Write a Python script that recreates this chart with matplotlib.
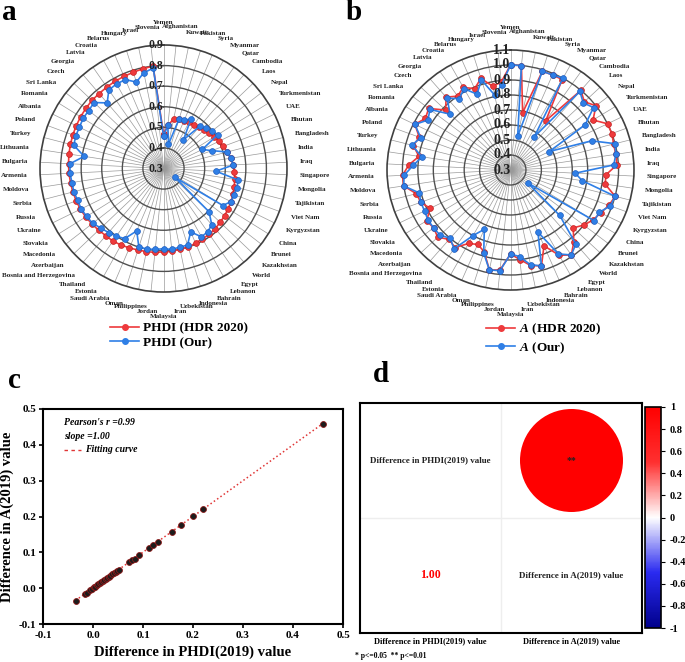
import numpy as np
import matplotlib
matplotlib.use("Agg")
import matplotlib.pyplot as plt
from matplotlib.colors import LinearSegmentedColormap, Normalize
from matplotlib.cm import ScalarMappable
from matplotlib.lines import Line2D

plt.rcParams['font.family'] = ['Liberation Serif', 'DejaVu Serif']
plt.rcParams['font.weight'] = 'bold'
plt.rcParams['axes.unicode_minus'] = False
plt.rcParams['mathtext.fontset'] = 'custom'
plt.rcParams['mathtext.rm'] = 'Liberation Serif:bold'
plt.rcParams['mathtext.it'] = 'Liberation Serif:italic:bold'
plt.rcParams['mathtext.bf'] = 'Liberation Serif:bold'

# ---------------- data ----------------
countries = ["Yemen", "Afghanistan", "Kuwait", "Pakistan", "Syria", "Myanmar", "Qatar",
             "Cambodia", "Laos", "Nepal", "Turkmenistan", "UAE", "Bhutan", "Bangladesh",
             "India", "Iraq", "Singapore", "Mongolia", "Tajikistan", "Viet Nam",
             "Kyrgyzstan", "China", "Brunei", "Kazakhstan", "World", "Egypt", "Lebanon",
             "Bahrain", "Indonesia", "Uzbekistan", "Iran", "Malaysia", "Jordan",
             "Philippines", "Oman", "Saudi Arabia", "Estonia", "Thailand",
             "Bosnia and Herzegovina", "Azerbaijan", "Macedonia", "Slovakia", "Ukraine",
             "Russia", "Serbia", "Moldova", "Armenia", "Bulgaria", "Lithuania", "Turkey",
             "Poland", "Albania", "Romania", "Sri Lanka", "Czech", "Georgia", "Latvia",
             "Croatia", "Belarus", "Hungary", "Israel", "Slovenia"]

phdi_hdr = [0.47, 0.51, 0.546, 0.55, 0.552, 0.556, 0.56, 0.565, 0.57, 0.58,
            0.59, 0.60, 0.61, 0.62, 0.63, 0.64, 0.645, 0.65, 0.655, 0.66,
            0.665, 0.67, 0.675, 0.68, 0.685, 0.69, 0.69, 0.695, 0.70, 0.70,
            0.705, 0.705, 0.71, 0.712, 0.715, 0.72, 0.725, 0.73, 0.73, 0.735,
            0.74, 0.745, 0.75, 0.752, 0.755, 0.757, 0.76, 0.762, 0.765, 0.767,
            0.77, 0.772, 0.775, 0.777, 0.78, 0.78, 0.782, 0.785, 0.787, 0.79,
            0.795, 0.80]
phdi_our = [0.46, 0.51, 0.42, 0.55, 0.555, 0.575, 0.47, 0.57, 0.585, 0.60,
            0.61, 0.51, 0.55, 0.62, 0.63, 0.64, 0.555, 0.665, 0.67, 0.665,
            0.665, 0.64, 0.37, 0.605, 0.66, 0.675, 0.68, 0.635, 0.69, 0.69,
            0.695, 0.69, 0.695, 0.70, 0.70, 0.63, 0.69, 0.70, 0.71, 0.72,
            0.735, 0.74, 0.745, 0.745, 0.75, 0.75, 0.755, 0.755, 0.69, 0.75,
            0.755, 0.755, 0.76, 0.76, 0.765, 0.72, 0.765, 0.77, 0.77, 0.74,
            0.775, 0.79]

a_hdr = [1.00, 1.00, 0.69, 0.99, 0.99, 0.99, 0.70, 1.00, 0.96, 1.00,
         0.93, 1.00, 1.00, 0.99, 0.99, 0.99, 0.92, 0.92, 1.00, 0.98,
         0.95, 0.93, 0.90, 0.86, 0.93, 0.99, 0.95, 0.85, 0.97, 0.95,
         0.90, 0.86, 0.97, 0.98, 0.87, 0.84, 0.86, 0.93, 0.91, 0.95,
         0.93, 0.94, 0.88, 0.92, 0.93, 1.00, 1.00, 0.96, 0.90, 0.95,
         0.93, 0.99, 0.95, 0.97, 0.88, 0.94, 0.90, 0.93, 0.89, 0.94,
         0.87, 0.89]
a_our = [1.00, 1.00, 0.53, 0.99, 0.99, 1.00, 0.57, 0.99, 0.95, 0.98,
         0.87, 0.58, 0.86, 1.00, 0.99, 0.97, 0.72, 0.77, 1.00, 0.99,
         0.94, 0.94, 0.44, 0.74, 0.95, 0.99, 0.94, 0.75, 0.97, 0.945,
         0.88, 0.86, 0.975, 0.98, 0.88, 0.73, 0.80, 0.94, 0.90, 0.93,
         0.93, 0.93, 0.92, 0.92, 0.91, 1.00, 0.99, 0.93, 0.88, 0.96,
         0.92, 0.99, 0.93, 0.96, 0.84, 0.93, 0.88, 0.92, 0.85, 0.93,
         0.81, 0.87]

diff_phdi = [-0.035, -0.016, -0.012, -0.006, -0.002, 0.001, 0.004, 0.007, 0.010, 0.013,
             0.016, 0.019, 0.022, 0.025, 0.028, 0.031, 0.034, 0.038, 0.042, 0.045,
             0.048, 0.052, 0.072, 0.078, 0.083, 0.092, 0.111, 0.120, 0.129, 0.158,
             0.176, 0.200, 0.220, 0.460]
diff_a = [-0.035, -0.017, -0.013, -0.006, -0.001, 0.002, 0.004, 0.008, 0.011, 0.014,
          0.017, 0.019, 0.023, 0.026, 0.029, 0.032, 0.035, 0.039, 0.043, 0.046,
          0.049, 0.052, 0.073, 0.079, 0.082, 0.092, 0.111, 0.120, 0.129, 0.158,
          0.176, 0.201, 0.221, 0.459]

corr_labels = ["Difference in PHDI(2019) value", "Difference in A(2019) value"]
corr_value = 1.00
cbar_ticks = [1, 0.8, 0.6, 0.4, 0.2, 0, -0.2, -0.4, -0.6, -0.8, -1]

RED = '#EE3A3C'
BLUE = '#2F7FE6'
W, H = 685, 662

# small vertical label shifts (px, up positive) to stagger crowded labels
label_shift = {"Yemen": 5, "Afghanistan": 2, "Kuwait": -2, "Slovenia": 1,
               "Uzbekistan": 0, "Iran": -3, "Malaysia": -7, "Jordan": -3}

fig = plt.figure(figsize=(W / 100, H / 100), dpi=100)


def px_axes(x0, y0, x1, y1, **kw):
    return fig.add_axes([x0 / W, 1 - y1 / H, (x1 - x0) / W, (y1 - y0) / H], **kw)


def radar(ax, wpx, hpx, red, blue, rmin, rmax, ring_ticks, ring_fs):
    n = len(countries)
    th = np.arange(n) * 2 * np.pi / n
    ax.set_theta_zero_location('N')
    ax.set_theta_direction(-1)
    ax.set_aspect('auto')
    ax.set_ylim(rmin, rmax)
    ax.set_xticks(th)
    ax.set_xticklabels([])
    ax.set_yticks(ring_ticks[1:-1])
    ax.set_yticklabels([])
    ax.tick_params(length=0)
    ax.xaxis.grid(True, color='#9a9a9a', lw=0.5)
    ax.yaxis.grid(True, color='#505050', lw=1.0)
    ax.spines['polar'].set_color('#404040')
    ax.spines['polar'].set_linewidth(1.2)
    thc = np.append(th, th[0])
    ax.plot(thc, np.append(red, red[0]), '-o', color=RED, lw=1.2, ms=4.2,
            mec='#c42020', mew=0.5, zorder=3)
    ax.plot(thc, np.append(blue, blue[0]), '-o', color=BLUE, lw=1.2, ms=4.2,
            mec='#1f5fc0', mew=0.5, zorder=4)
    for t in ring_ticks:
        ax.text(0, t, f"{t:.1f}", ha='right', va='center', fontsize=ring_fs,
                fontweight='bold', color='#222222', zorder=6)
    sc = hpx / 247.0
    for name, a in zip(countries, th):
        s, c = np.sin(a), np.cos(a)
        if abs(s) < 0.35:
            ha = 'center'
            dx = 165 * s
        else:
            ha = 'left' if s > 0 else 'right'
            dx = 136 * s
        dy = 141 * c * sc + label_shift.get(name, 0)
        ax.text(0.5 + dx / wpx, 0.5 + dy / hpx, name, transform=ax.transAxes,
                ha=ha, va='center', fontsize=5.0, fontweight='bold', color='#222222')


leg_prop = {'family': 'Liberation Serif', 'weight': 'bold', 'size': 9.5}

# ---------------- panel a ----------------
axa = px_axes(40, 45, 287, 292, projection='polar')
radar(axa, 247, 247, phdi_hdr, phdi_our, 0.3, 0.9,
      [0.3, 0.4, 0.5, 0.6, 0.7, 0.8, 0.9], 8.5)
ha_ = [Line2D([], [], color=RED, marker='o', ms=4, lw=1.2),
       Line2D([], [], color=BLUE, marker='o', ms=4, lw=1.2)]
fig.legend(ha_, ["PHDI (HDR 2020)", "PHDI (Our)"], loc='upper left',
           bbox_to_anchor=(110 / W, 1 - 322 / H), frameon=False, prop=leg_prop,
           handlelength=2.2, handletextpad=0.3, labelspacing=0.2, borderpad=0,
           borderaxespad=0)

# ---------------- panel b ----------------
axb = px_axes(387, 50, 634, 290, projection='polar')
radar(axb, 247, 240, a_hdr, a_our, 0.3, 1.1,
      [0.3, 0.4, 0.5, 0.6, 0.7, 0.8, 0.9, 1.0, 1.1], 10)
fig.legend(ha_, [r"$\mathit{A}$ (HDR 2020)", r"$\mathit{A}$ (Our)"], loc='upper left',
           bbox_to_anchor=(486 / W, 1 - 322 / H), frameon=False, prop=leg_prop,
           handlelength=2.2, handletextpad=0.3, labelspacing=0.2, borderpad=0,
           borderaxespad=0)

# ---------------- panel c ----------------
axc = px_axes(43, 409, 343, 624)
axc.scatter(diff_phdi, diff_a, s=18, facecolor='#1c1c1c', edgecolor='#8b1a1a',
            linewidth=0.6, zorder=3)
coef = np.polyfit(diff_phdi, diff_a, 1)
xf = np.linspace(min(diff_phdi), max(diff_phdi), 100)
axc.plot(xf, np.polyval(coef, xf), ':', color='#E03535', lw=1.1, zorder=2)
axc.set_xlim(-0.1, 0.5)
axc.set_ylim(-0.1, 0.5)
ticks = [-0.1, 0.0, 0.1, 0.2, 0.3, 0.4, 0.5]
axc.set_xticks(ticks)
axc.set_xticklabels([f"{t:.1f}" for t in ticks])
axc.set_yticks(ticks)
axc.set_yticklabels([f"{t:.1f}" for t in ticks])
axc.tick_params(labelsize=8, width=1.2, length=3, direction='out', pad=2)
for lab in axc.get_xticklabels() + axc.get_yticklabels():
    lab.set_fontweight('bold')
for sp in axc.spines.values():
    sp.set_linewidth(1.5)
axc.set_xlabel("Difference in PHDI(2019) value", fontsize=10.5, fontweight='bold',
               labelpad=4)
axc.set_ylabel("Difference in A(2019) value", fontsize=10.5, fontweight='bold',
               labelpad=3)
axc.text(0.07, 0.935, "Pearson's r =0.99", transform=axc.transAxes, fontsize=7,
         style='italic', fontweight='bold', va='center')
axc.text(0.07, 0.87, "slope =1.00", transform=axc.transAxes, fontsize=7,
         style='italic', fontweight='bold', va='center')
axc.plot([0.07, 0.125], [0.81, 0.81], transform=axc.transAxes, ls=(0, (2.5, 2.5)),
         color='#E03535', lw=1)
axc.text(0.14, 0.81, "Fitting curve", transform=axc.transAxes, fontsize=7,
         style='italic', fontweight='bold', va='center')

# ---------------- panel d ----------------
cmap = LinearSegmentedColormap.from_list('rwb', ['#00008B', '#2a2af0', '#ffffff',
                                                 '#ff3030', '#ff0000'])
norm = Normalize(-1, 1)
axd = px_axes(360, 403, 642, 633)
axd.set_xlim(0, 2)
axd.set_ylim(0, 2)
axd.axvline(1, color='#eeeeee', lw=1)
axd.axhline(1, color='#eeeeee', lw=1)
axd.scatter([1.5], [1.5], s=5500 * abs(corr_value), color=cmap(norm(corr_value)),
            edgecolor='none', zorder=3)
axd.text(1.5, 1.5, "**", ha='center', va='center', fontsize=7, color='#222222', zorder=4)
axd.text(0.5, 0.5, f"{corr_value:.2f}", ha='center', va='center', fontsize=8.5,
         color=cmap(norm(corr_value)), fontweight='bold')
axd.text(0.5, 1.5, corr_labels[0], ha='center', va='center', fontsize=6.5,
         fontweight='bold', color='#222222')
axd.text(1.5, 0.5, corr_labels[1], ha='center', va='center', fontsize=6.5,
         fontweight='bold', color='#222222')
axd.set_xticks([0.5, 1.5])
axd.set_xticklabels(corr_labels, fontsize=6, fontweight='bold')
axd.set_yticks([])
axd.tick_params(length=0, pad=3)
for sp in axd.spines.values():
    sp.set_linewidth(1.5)
fig.text(355 / W, 1 - 656 / H, "* p<=0.05  ** p<=0.01", fontsize=5.5, va='center',
         fontweight='bold')

cax = px_axes(645, 407, 661, 628)
cb = fig.colorbar(ScalarMappable(norm=norm, cmap=cmap), cax=cax)
cb.set_ticks(cbar_ticks)
cb.set_ticklabels([f"{t:g}" for t in cbar_ticks])
cb.ax.tick_params(labelsize=7.5, length=3, width=0.8)
for lab in cb.ax.get_yticklabels():
    lab.set_fontweight('bold')
cb.outline.set_linewidth(1.2)

# panel letters
for lbl, x, y in [("a", 2, 12), ("b", 346, 12), ("c", 8, 381), ("d", 373, 375)]:
    fig.text(x / W, 1 - y / H, lbl, fontsize=21, fontweight='bold', va='center')

fig.savefig("out.png", dpi=100)
